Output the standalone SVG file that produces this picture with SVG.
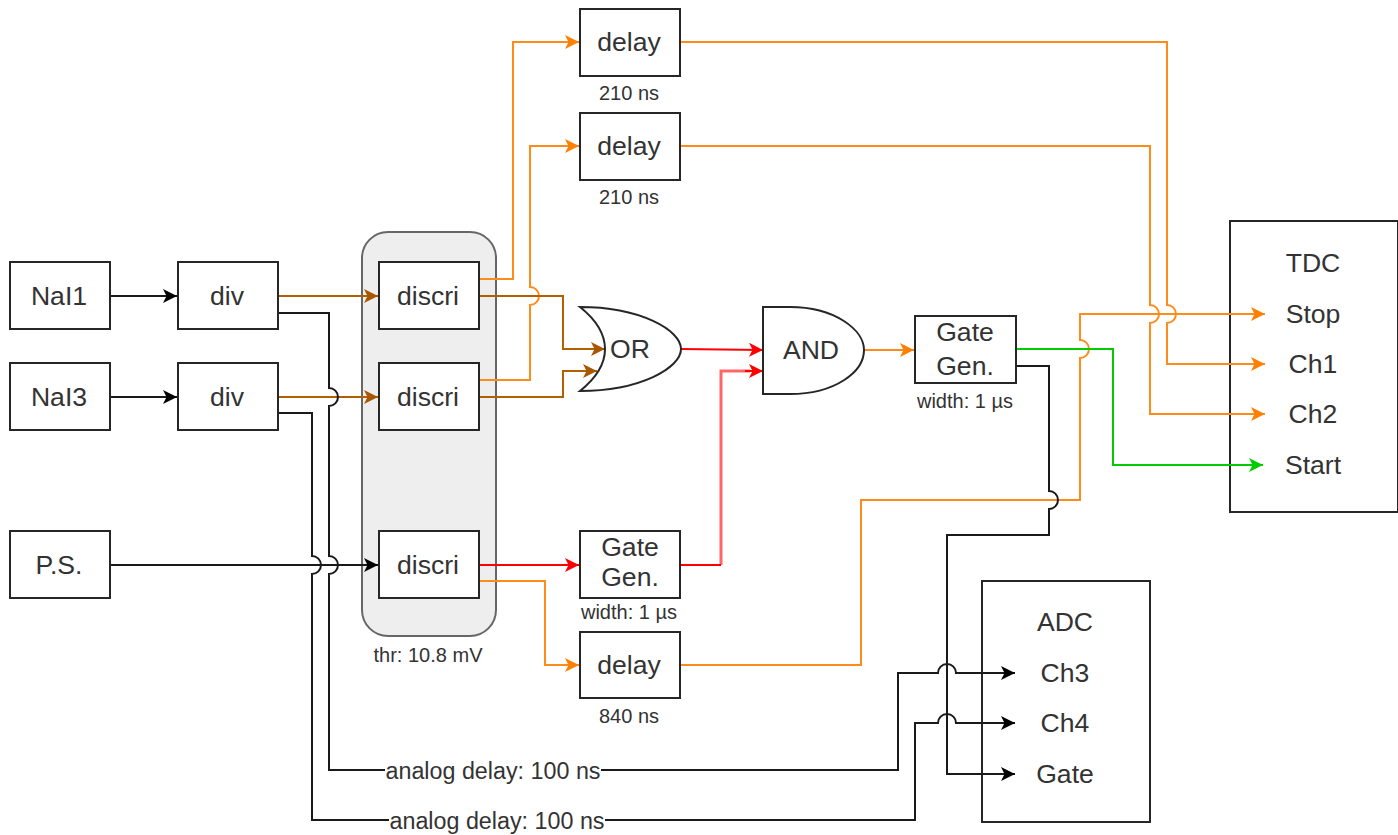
<svg xmlns="http://www.w3.org/2000/svg" width="1398" height="835" viewBox="0 0 1398 835">
<style>
text{font-family:"Liberation Sans",Arial,sans-serif;fill:#333;text-anchor:middle}
.t{font-size:26.6px}
.s{font-size:20px}
.a{font-size:23.3px}
.b{fill:#fff;stroke:#262626;stroke-width:2}
.c{fill:none;stroke-width:2}
.k{stroke:#1a1a1a}.o{stroke:#ff8c1a}.w{stroke:#b25f00}.r{stroke:#ff0000}.p{stroke:#ff6666;stroke-width:3}.g{stroke:#00cc00}
</style>
<defs>
<marker id="mk" markerUnits="userSpaceOnUse" markerWidth="16" markerHeight="16" refX="14" refY="8" orient="auto"><path d="M0 1L14 8L0 15L3.5 8Z" fill="#000"/></marker>
<marker id="mo" markerUnits="userSpaceOnUse" markerWidth="16" markerHeight="16" refX="14" refY="8" orient="auto"><path d="M0 1L14 8L0 15L3.5 8Z" fill="#ff8000"/></marker>
<marker id="mw" markerUnits="userSpaceOnUse" markerWidth="16" markerHeight="16" refX="14" refY="8" orient="auto"><path d="M0 1L14 8L0 15L3.5 8Z" fill="#a85600"/></marker>
<marker id="mr" markerUnits="userSpaceOnUse" markerWidth="16" markerHeight="16" refX="14" refY="8" orient="auto"><path d="M0 1L14 8L0 15L3.5 8Z" fill="#ff0000"/></marker>
<marker id="mg" markerUnits="userSpaceOnUse" markerWidth="16" markerHeight="16" refX="14" refY="8" orient="auto"><path d="M0 1L14 8L0 15L3.5 8Z" fill="#00cc00"/></marker>
</defs>
<g id="discri-group"><rect x="362" y="232" width="134" height="404" rx="26" fill="#eeeeee" stroke="#666" stroke-width="2"/><text class="s" x="428" y="662">thr: 10.8 mV</text></g>
<g id="tdc"><rect class="b" x="1230" y="221" width="168" height="291"/><text class="t" x="1313" y="272">TDC</text><text class="t" x="1313" y="323">Stop</text><text class="t" x="1313" y="373">Ch1</text><text class="t" x="1313" y="423">Ch2</text><text class="t" x="1313" y="474">Start</text></g>
<g id="adc"><rect class="b" x="982" y="581" width="168" height="241"/><text class="t" x="1065" y="631">ADC</text><text class="t" x="1065" y="682">Ch3</text><text class="t" x="1065" y="732">Ch4</text><text class="t" x="1065" y="783">Gate</text></g>
<g id="connectors">
<path class="c k" d="M110 296H177" marker-end="url(#mk)"/>
<path class="c k" d="M110 397H177" marker-end="url(#mk)"/>
<path class="c k" d="M110 565H378" marker-end="url(#mk)"/>
<path class="c w" d="M278 296H378" marker-end="url(#mw)"/>
<path class="c w" d="M278 397H378" marker-end="url(#mw)"/>
<path class="c k" d="M278 313H329V388A9 9 0 0 1 329 406V556A9 9 0 0 1 329 574V770H898V673H938A9 9 0 0 1 956 673H1015" marker-end="url(#mk)"/>
<path class="c k" d="M278 413H312V556A9 9 0 0 1 312 574V820H915V723H938A9 9 0 0 1 956 723H1015" marker-end="url(#mk)"/>
<path class="c o" d="M479 279H513V42H579" marker-end="url(#mo)"/>
<path class="c o" d="M479 380H530V305A9 9 0 0 0 530 287V146H579" marker-end="url(#mo)"/>
<path class="c w" d="M479 296H563V349H605" marker-end="url(#mw)"/>
<path class="c w" d="M479 397H563V371H597" marker-end="url(#mw)"/>
<path class="c r" d="M479 565H579" marker-end="url(#mr)"/>
<path class="c o" d="M479 581H545V665H579" marker-end="url(#mo)"/>
<path class="c r" d="M681 349L763 350" marker-end="url(#mr)"/>
<path class="c p" d="M721 565V371H750"/>
<path class="c r" d="M681 565H721"/>
<path class="c r" d="M745 371H763" marker-end="url(#mr)"/>
<path class="c o" d="M864 350H914" marker-end="url(#mo)"/>
<path class="c o" d="M681 42H1167V305A9 9 0 0 1 1167 323V364H1265" marker-end="url(#mo)"/>
<path class="c o" d="M681 146H1150V305A9 9 0 0 1 1150 323V414H1265" marker-end="url(#mo)"/>
<path class="c o" d="M681 665H861V500H1080V358A9 9 0 0 0 1080 340V314H1265" marker-end="url(#mo)"/>
<path class="c g" d="M1016 349H1113V465H1263" marker-end="url(#mg)"/>
<path class="c k" d="M1016 366H1049V491A9 9 0 0 1 1049 509V535H947V774H1015" marker-end="url(#mk)"/>
</g>
<g id="nai1"><rect class="b" x="10" y="262" width="100" height="67"/><text class="t" x="59" y="305">NaI1</text></g>
<g id="nai3"><rect class="b" x="10" y="363" width="100" height="67"/><text class="t" x="59" y="406">NaI3</text></g>
<g id="ps"><rect class="b" x="10" y="531" width="100" height="67"/><text class="t" x="59" y="574">P.S.</text></g>
<g id="div1"><rect class="b" x="178" y="262" width="100" height="67"/><text class="t" x="227" y="305">div</text></g>
<g id="div2"><rect class="b" x="178" y="363" width="100" height="67"/><text class="t" x="227" y="406">div</text></g>
<g id="discri1"><rect class="b" x="379" y="262" width="100" height="67"/><text class="t" x="428" y="305">discri</text></g>
<g id="discri2"><rect class="b" x="379" y="363" width="100" height="67"/><text class="t" x="428" y="406">discri</text></g>
<g id="discri3"><rect class="b" x="379" y="531" width="100" height="67"/><text class="t" x="428" y="574">discri</text></g>
<g id="delay1"><rect class="b" x="580" y="9" width="100" height="67"/><text class="t" x="629" y="51">delay</text><text class="s" x="629" y="100">210 ns</text></g>
<g id="delay2"><rect class="b" x="580" y="113" width="100" height="67"/><text class="t" x="629" y="155">delay</text><text class="s" x="629" y="204">210 ns</text></g>
<g id="gate1"><rect class="b" x="580" y="531" width="100" height="67"/><text class="t" x="630" y="556">Gate</text><text class="t" x="630" y="586">Gen.</text><text class="s" x="629" y="619">width: 1 µs</text></g>
<g id="delay3"><rect class="b" x="580" y="632" width="100" height="66"/><text class="t" x="629" y="674">delay</text><text class="s" x="629" y="723">840 ns</text></g>
<g id="or"><path class="b" d="M580 307C640 307 681 330 681 349C681 368 640 391 580 391C600 375 605 360 605 349C605 338 600 323 580 307Z"/><text class="t" x="630" y="358">OR</text></g>
<g id="and"><path class="b" d="M763 307H790C835 307 864 330 864 350C864 372 835 394 790 394H763Z"/><text class="t" x="811" y="359">AND</text></g>
<g id="gate2"><rect class="b" x="915" y="316" width="101" height="67"/><text class="t" x="965" y="341">Gate</text><text class="t" x="965" y="375">Gen.</text><text class="s" x="965" y="408">width: 1 µs</text></g>
<g id="labels">
<rect x="385" y="759" width="216" height="22" fill="#fff"/><text class="a" x="493" y="779">analog delay: 100 ns</text>
<rect x="389" y="809" width="216" height="22" fill="#fff"/><text class="a" x="497" y="829">analog delay: 100 ns</text>
</g>
</svg>
